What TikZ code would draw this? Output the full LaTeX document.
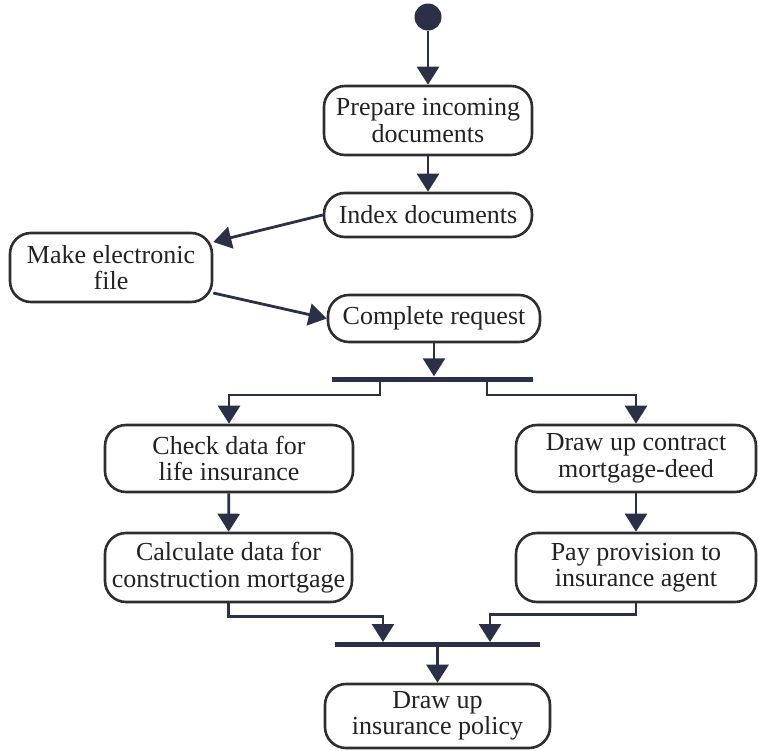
\documentclass[tikz,border=0pt]{standalone}
\usepackage{fontspec}
\setmainfont{Liberation Serif}
\usepackage{xcolor}
\usetikzlibrary{arrows.meta,positioning}
\definecolor{inkline}{HTML}{2B3048}
\definecolor{inkbox}{HTML}{2E2E2E}
\definecolor{inktext}{HTML}{222222}

\begin{document}
\begin{tikzpicture}[x=1pt, y=-1pt,
  activity/.style={draw=inkbox, line width=2.6pt, rounded corners=21pt, align=center,
    inner sep=0pt, text=inktext, font=\fontsize{26}{26.5}\selectfont},
  syncbar/.style={fill=inkline, draw=none, inner sep=0pt, minimum height=5pt},
  flow/.style={draw=inkline, line width=2.8pt, -{Triangle[width=22pt,length=18pt]}}]
\useasboundingbox (0,0) rectangle (758,750);

% initial state
\node[circle, fill=inkline, minimum size=27pt, inner sep=0pt] (start) at (428,17) {};

% activities
\node[activity, minimum width=208pt, minimum height=69pt] (prep) at (428,120.5) {Prepare incoming\\documents};
\node[activity, minimum width=208pt, minimum height=44pt] (index) at (428,215) {Index documents};
\node[activity, minimum width=202pt, minimum height=69pt] (efile) at (111,267.5) {Make electronic\\file};
\node[activity, minimum width=212pt, minimum height=47pt] (request) at (434,318.5) {Complete request};

% fork
\node[syncbar, minimum width=201pt] (fork) at (432.5,379) {};
\coordinate (forkL) at (380,379);
\coordinate (forkR) at (487,379);

% parallel branches
\node[activity, minimum width=248pt, minimum height=67pt] (lifecheck) at (229,458.5) {Check data for\\life insurance};
\node[activity, minimum width=240pt, minimum height=67pt] (contract) at (636,458.5) {Draw up contract\\mortgage-deed};
\node[activity, minimum width=247pt, minimum height=69pt] (mortcalc) at (228.5,567.5) {Calculate data for\\construction mortgage};
\node[activity, minimum width=240pt, minimum height=69pt] (provision) at (636,567.5) {Pay provision to\\insurance agent};

% join
\node[syncbar, minimum width=205pt] (join) at (437.5,644) {};
\coordinate (joinL) at (383,642);
\coordinate (joinR) at (490,642);

\node[activity, minimum width=225pt, minimum height=64pt] (policy) at (437.5,716) {Draw up\\insurance policy};

% transitions
\draw[flow] (start) -- (prep);
\draw[flow] (prep) -- (index);
\draw[flow] (index.west) -- (efile.14);
\draw[flow] (efile.-14) -- (request.west);
\draw[flow] (request) -- (request |- fork.north);
\draw[flow] (forkL) -- ++(0,16) -| (lifecheck.north);
\draw[flow] (forkR) -- ++(0,16) -| (contract.north);
\draw[flow] (lifecheck) -- (mortcalc);
\draw[flow] (contract) -- (provision);
\draw[flow] (mortcalc.south) -- ++(0,13) -| (joinL);
\draw[flow] (provision.south) -- ++(0,11) -| (joinR);
\draw[flow] (join) -- (policy);
\end{tikzpicture}
\end{document}
